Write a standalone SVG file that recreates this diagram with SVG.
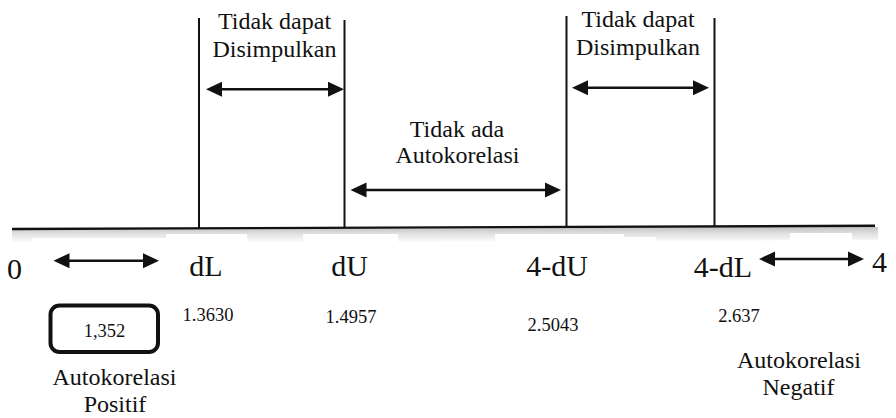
<svg xmlns="http://www.w3.org/2000/svg" width="896" height="418" viewBox="0 0 896 418" font-family="'Liberation Serif', 'Times New Roman', serif">
  <style>
    text { fill: #111; }
    .zone { font-family: "Liberation Serif", "Times New Roman", serif; font-size: 24px; text-anchor: middle; }
    .tick { font-family: "Liberation Serif", "Times New Roman", serif; font-size: 30px; }
    .val { font-family: "Liberation Serif", "Times New Roman", serif; font-size: 18.5px; text-anchor: middle; }
    .bound { stroke: #111; stroke-width: 2; fill: none; }
    .axis { stroke: #111; stroke-width: 2.4; fill: none; }
    .arrow { stroke: #111; stroke-width: 2.4; fill: none; marker-start: url(#head); marker-end: url(#head); }
    .cover { fill: #fff; }
  </style>
  <defs>
    <marker id="head" markerUnits="userSpaceOnUse" markerWidth="18" markerHeight="16" viewBox="0 -8 18 16" refX="8" refY="0" orient="auto-start-reverse">
      <path d="M0,-7.5 L16,0 L0,7.5 z" fill="#111"/>
    </marker>
    <linearGradient id="shade" x1="0" y1="0" x2="0" y2="1">
      <stop offset="0" stop-color="#c2c2c2"/>
      <stop offset="0.45" stop-color="#e2e2e2"/>
      <stop offset="1" stop-color="#ffffff"/>
    </linearGradient>
  </defs>

  <rect width="896" height="418" fill="#fff"/>

  <!-- soft shadow under the number line, broken by the label backgrounds -->
  <g id="axis-shadow">
    <polygon points="12,230 878,227 878,240 12,243" fill="url(#shade)"/>
    <rect class="cover" x="32" y="238" width="134" height="8"/>
    <rect class="cover" x="166" y="234" width="81" height="12"/>
    <rect class="cover" x="303" y="234" width="95" height="12"/>
    <rect class="cover" x="495" y="234" width="129" height="12"/>
    <rect class="cover" x="624" y="237" width="32" height="8"/>
    <rect class="cover" x="790" y="233" width="62" height="12"/>
  </g>

  <!-- number line and region boundaries -->
  <g id="axis">
    <line class="axis" x1="12" y1="229" x2="875" y2="225.8"/>
    <line class="bound" x1="199" y1="18" x2="199" y2="229"/>
    <line class="bound" x1="344.5" y1="20" x2="344.5" y2="228"/>
    <line class="bound" x1="566.5" y1="16" x2="566.5" y2="227"/>
    <line class="bound" x1="714.5" y1="18" x2="714.5" y2="227"/>
  </g>

  <!-- double-headed range arrows -->
  <g id="connectors">
    <line class="arrow" x1="214" y1="89.3" x2="336" y2="89.3"/>
    <line class="arrow" x1="358.5" y1="190" x2="553" y2="190"/>
    <line class="arrow" x1="580" y1="87.7" x2="701" y2="87.7"/>
    <line class="arrow" x1="61.5" y1="260.7" x2="151" y2="260.7"/>
    <line class="arrow" x1="767" y1="259" x2="856" y2="259"/>
  </g>

  <g id="zone-inconclusive-left">
    <text class="zone" x="274.5" y="29">Tidak dapat</text>
    <text class="zone" x="274.5" y="57">Disimpulkan</text>
  </g>
  <g id="zone-no-autocorrelation">
    <text class="zone" x="457" y="136.7">Tidak ada</text>
    <text class="zone" x="457.5" y="163.3">Autokorelasi</text>
  </g>
  <g id="zone-inconclusive-right">
    <text class="zone" x="638" y="27">Tidak dapat</text>
    <text class="zone" x="638" y="55">Disimpulkan</text>
  </g>

  <g id="tick-0"><text class="tick" x="7" y="279.3">0</text></g>
  <g id="tick-dL">
    <text class="tick" x="206" y="276" text-anchor="middle">dL</text>
    <text class="val" x="208" y="320.7">1.3630</text>
  </g>
  <g id="tick-dU">
    <text class="tick" x="349.5" y="276" text-anchor="middle">dU</text>
    <text class="val" x="351" y="322.7">1.4957</text>
  </g>
  <g id="tick-4-dU">
    <text class="tick" x="557" y="276" text-anchor="middle">4-dU</text>
    <text class="val" x="553" y="330.7">2.5043</text>
  </g>
  <g id="tick-4-dL">
    <text class="tick" x="723" y="277" text-anchor="middle">4-dL</text>
    <text class="val" x="739" y="322.3">2.637</text>
  </g>
  <g id="tick-4"><text class="tick" x="872" y="272">4</text></g>

  <g id="dw-statistic">
    <rect x="50.5" y="305.5" width="107.5" height="46.5" rx="9" ry="9" fill="#fff" stroke="#111" stroke-width="4"/>
    <text class="val" x="104.5" y="336.7">1,352</text>
  </g>
  <g id="zone-positive">
    <text class="zone" x="114.5" y="385">Autokorelasi</text>
    <text class="zone" x="115" y="412">Positif</text>
  </g>
  <g id="zone-negative">
    <text class="zone" x="799" y="368">Autokorelasi</text>
    <text class="zone" x="798.5" y="395">Negatif</text>
  </g>
</svg>
